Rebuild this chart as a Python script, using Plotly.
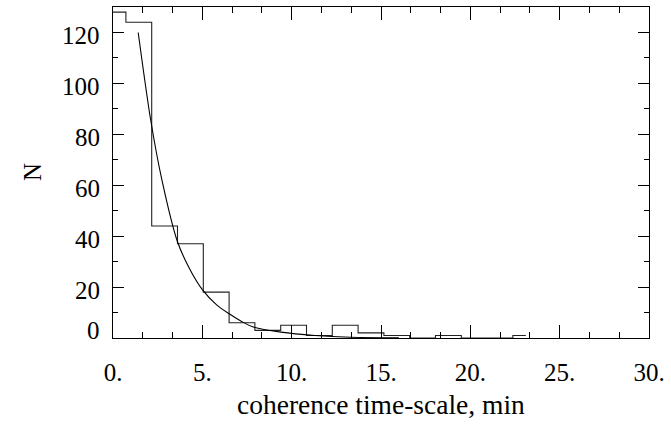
import plotly.graph_objects as go

# Histogram (IDL psym=10 style: steps centred on points, half-width end bins)
bin_width = 1.444
hist_x = [round(i * bin_width, 3) for i in range(17)]
hist_n = [128, 124, 44, 37, 18, 6, 3, 5, 1, 5, 2, 1, 0, 1, 0, 0, 1]

# Fitted curve, points
fit_x = [1.41, 2.1, 2.74, 3.6, 4.3, 5.0, 5.8, 6.5, 7.2, 7.9, 9.4, 11.3, 13.3, 16.0]
fit_n = [120, 86, 62, 38, 27, 19, 13, 9.5, 6.5, 4.2, 2.3, 1.0, 0.3, 0.1]

x_ticks = [0, 5, 10, 15, 20, 25, 30]
x_ticktext = ["0.", "5.", "10.", "15.", "20.", "25.", "30."]
y_ticks = [0, 20, 40, 60, 80, 100, 120]
y_ticktext = ["0", "20", "40", "60", "80", "100", "120"]

# Build psym=10 step outline
sx, sy = [], []
n = len(hist_x)
for i in range(n):
    left = hist_x[i] if i == 0 else (hist_x[i - 1] + hist_x[i]) / 2
    right = hist_x[i] if i == n - 1 else (hist_x[i] + hist_x[i + 1]) / 2
    sx += [left, right]
    sy += [hist_n[i], hist_n[i]]

FONT = "Liberation Serif, Times New Roman, serif"
fig = go.Figure()
fig.add_trace(go.Scatter(x=sx, y=sy, mode="lines",
                         line=dict(color="#222222", width=1.1), hoverinfo="skip"))
fig.add_trace(go.Scatter(x=fit_x, y=fit_n, mode="lines",
                         line=dict(color="black", width=1.1, shape="spline", smoothing=0.8),
                         hoverinfo="skip"))

fig.update_layout(
    width=671, height=425,
    margin=dict(l=113, r=17, t=6, b=87),
    paper_bgcolor="white", plot_bgcolor="white",
    showlegend=False,
    font=dict(family=FONT, size=25, color="black"),
)
fig.update_xaxes(
    range=[0, 30], showgrid=False, zeroline=False,
    showline=True, linecolor="black", linewidth=1, mirror="ticks",
    ticks="inside", ticklen=13, tickwidth=1, tickcolor="black",
    tickvals=x_ticks, ticktext=x_ticktext, ticklabelstandoff=12,
    tickfont=dict(family=FONT, size=25),
    minor=dict(ticks="inside", ticklen=6, dtick=5 / 3, tick0=0, tickcolor="black", tickwidth=1),
)
fig.update_yaxes(
    range=[0, 130], showgrid=False, zeroline=False,
    showline=True, linecolor="black", linewidth=1, mirror="ticks",
    ticks="inside", ticklen=11, tickwidth=1, tickcolor="black",
    tickvals=y_ticks, showticklabels=False,
    minor=dict(ticks="inside", ticklen=5, dtick=10, tick0=0, tickcolor="black", tickwidth=1),
)

for v, t in zip(y_ticks, y_ticktext):
    fig.add_annotation(x=0, xref="paper", y=v, yref="y", text=t, showarrow=False,
                       xanchor="right", yanchor="middle", xshift=-11,
                       yshift=(8 if v == 0 else -3), font=dict(family=FONT, size=25))

fig.add_annotation(x=0.5, xref="paper", y=-0.2, yref="paper",
                   text="coherence time-scale, min", showarrow=False,
                   xanchor="center", yanchor="middle", font=dict(family=FONT, size=27.5))
fig.add_annotation(x=-0.15, xref="paper", y=0.5, yref="paper", text="N",
                   showarrow=False, textangle=-90, xanchor="center", yanchor="middle",
                   font=dict(family=FONT, size=25))

fig.write_html("out.html")
